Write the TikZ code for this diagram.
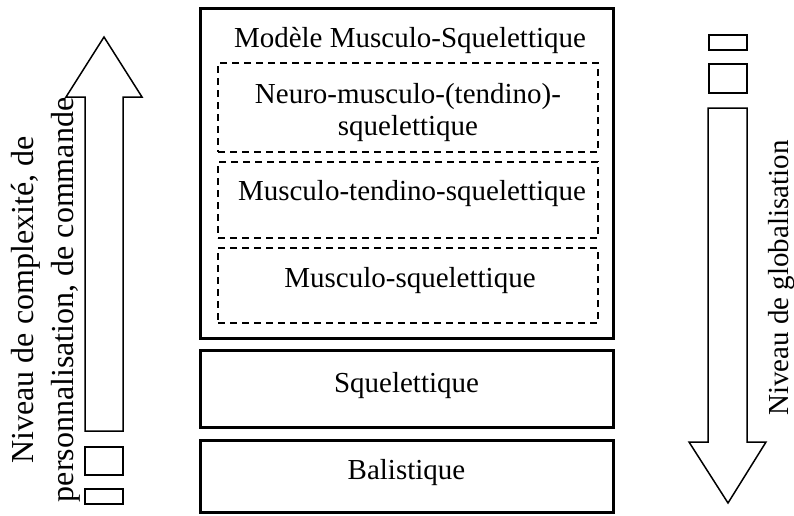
\documentclass[tikz,border=0pt]{standalone}
\usepackage{fontspec}
\setmainfont{Liberation Serif}
\begin{document}
\begin{tikzpicture}
    [
    x=1pt,y=-1pt,
    level/.style={draw,line width=3pt,inner sep=0pt,minimum width=413pt},
    sublevel/.style={draw,dash pattern=on 7pt off 5pt,line width=1.3pt,inner sep=0pt,minimum width=380pt},
    label text/.style={font=\fontsize{29}{33}\selectfont,anchor=base,inner sep=0pt},
    bigarrow/.style={draw,line width=1.5pt,line join=miter},
    tick/.style={draw,line width=2pt,inner sep=0pt,minimum width=38pt}
    ]
    \useasboundingbox (0,0) rectangle (794,515);
    \node (msq) at (406.5,173) [level,minimum height=330pt] {};
    \node (neuro) at (408,107.5) [sublevel,minimum height=89pt] {};
    \node (mts) at (408,200) [sublevel,minimum height=76pt] {};
    \node (ms) at (408,285.5) [sublevel,minimum height=75pt] {};
    \node (sq) at (406.5,388.5) [level,minimum height=77pt] {};
    \node (bal) at (406.5,476) [level,minimum height=72pt] {};
    \node (msq text) at (410,47) [label text] {Modèle Musculo-Squelettique};
    \node (neuro text) at (408,103) [label text] {Neuro-musculo-(tendino)-};
    \node (neuro text2) at (408,135) [label text] {squelettique};
    \node (mts text) at (412,200) [label text] {Musculo-tendino-squelettique};
    \node (ms text) at (410,287) [label text] {Musculo-squelettique};
    \node (sq text) at (406.5,392) [label text] {Squelettique};
    \node (bal text) at (406.5,479) [label text] {Balistique};
    % arrows
    \draw [bigarrow] (104,37) -- (142,97) -- (123,97) -- (123,431) -- (85,431) -- (85,97) -- (66,97) -- cycle;
    \draw [bigarrow] (708,108) -- (747,108) -- (747,442) -- (766,442) -- (728,503) -- (689,442) -- (708,442) -- cycle;
    \node (up1) at (104,461) [tick,minimum height=28pt] {};
    \node (up2) at (104,496.5) [tick,minimum height=15pt] {};
    \node (down1) at (727.5,42.5) [tick,minimum height=15pt] {};
    \node (down2) at (727.5,78.5) [tick,minimum height=29pt] {};
    \node (complexity) at (46,300) [rotate=90,align=center,font=\fontsize{32}{40}\selectfont] {Niveau de complexité, de\\personnalisation, de commande};
    \node (global) at (782,278) [rotate=90,font=\fontsize{29}{33}\selectfont] {Niveau de globalisation};
  \end{tikzpicture}
\end{document}
